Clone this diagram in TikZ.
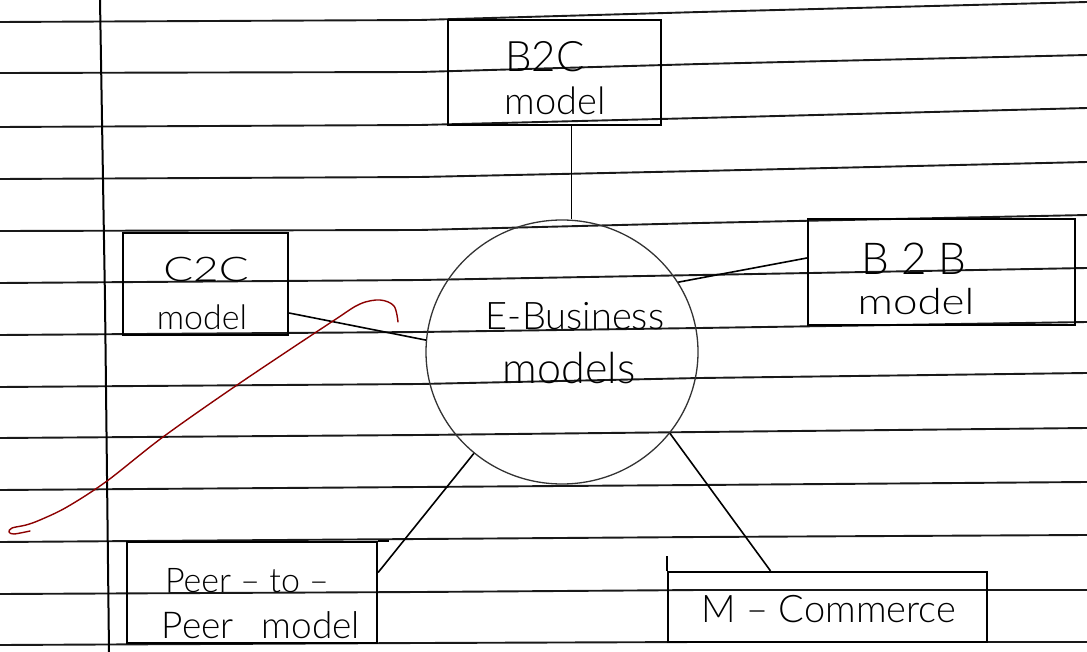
\documentclass[tikz,border=0pt]{standalone}
\usepackage{fontspec}
\usepackage{graphicx}
\newfontfamily\hand{Lato}[UprightFont={* Light}]
\usetikzlibrary{shapes.geometric}
\begin{document}
\begin{tikzpicture}[x=1pt,y=-1pt,
  rule/.style={line width=1.9pt, draw=black!90},
  margin/.style={line width=2pt, draw=black},
  boxline/.style={draw=black, line width=2.2pt},
  box/.style={boxline, rectangle, inner sep=0pt},
  hub/.style={draw=black!80, line width=1.3pt, ellipse, inner sep=0pt, minimum width=272pt, minimum height=264pt},
  link/.style={draw=black, line width=1.6pt},
  ink/.style={text=black, inner sep=0pt, anchor=base},
  redpen/.style={draw=red!55!black, line width=1.4pt, line cap=round, line join=round}]
\useasboundingbox (0,0) rectangle (1087,652);
\fill[white] (0,0) rectangle (1087,652);
% ruled paper
\foreach \a/\b/\c/\d in {22/20/12/2, 73/72/64/55, 127/125/118/108, 179/177/171/162,
  231/230/223/215, 283/280/275/268, 335/332/328/322, 387/384/378/373,
  438/435/432/428, 490/487/485/482, 542/539/537/535, 594/592/590/590, 645/643/642/642}
  \draw[rule] (0,\a) -- (420,\b) -- (700,\c) -- (1087,\d);
\draw[margin] (100,0) -- (105,300) -- (109,652);
% boxes
\node[box, minimum width=213pt, minimum height=105pt] (b2c) at (554.5,72.5) {};
\node[box, minimum width=165pt, minimum height=102pt] (c2c) at (205.5,284) {};
\node[box, minimum width=267pt, minimum height=106pt] (b2b) at (941.5,272) {};
\node[box, minimum width=250pt, minimum height=101pt] (p2p) at (252,592.5) {};
\node[box, minimum width=319pt, minimum height=70pt] (mcom) at (827.5,607) {};
\node[hub] (eb) at (562,352) {};
% extra strokes of the hand drawing
\draw[boxline] (mcom.north west) -- ++(0,-15);
\draw[boxline] (p2p.north east) -- ++(11,0);
% connectors
\draw[link] ([xshift=17pt]b2c.south) -- ([xshift=17pt]b2c.south |- eb.north);
\draw[link] ([yshift=-29pt]c2c.east) -- (eb.175);
\draw[link] ([yshift=14pt]b2b.west) -- (eb.31);
\draw[link] ([yshift=20pt]p2p.east) -- (eb.229);
\draw[link] ([xshift=-57pt]mcom.north) -- (eb.323);
% texts
\node[ink, font=\hand\fontsize{42}{42}\selectfont] (t-b2c) at (545,72) {B2C};
\node[ink, font=\hand\fontsize{38}{38}\selectfont] (t-b2cm) at (555,115) {model};
\node[ink, font=\hand\fontsize{34}{34}\selectfont] (t-c2c) at (206,282) {\scalebox{1.3}[1]{C2C}};
\node[ink, font=\hand\fontsize{34}{34}\selectfont] (t-c2cm) at (202,330) {model};
\node[ink, font=\hand\fontsize{44}{44}\selectfont] (t-b2b) at (914,275) {B 2 B};
\node[ink, font=\hand\fontsize{36}{36}\selectfont] (t-b2bm) at (916,315) {\scalebox{1.22}[1]{model}};
\node[ink, font=\hand\fontsize{38}{38}\selectfont] (t-eb) at (575,330) {E-Business};
\node[ink, font=\hand\fontsize{43}{43}\selectfont] (t-ebm) at (569,383) {models};
\node[ink, font=\hand\fontsize{34}{34}\selectfont] (t-p1) at (247,592) {Peer – to –};
\node[ink, font=\hand\fontsize{37}{37}\selectfont] (t-p2) at (261,638) {Peer\hspace{28pt}model};
\node[ink, font=\hand\fontsize{38}{38}\selectfont] (t-mc) at (829,622) {M – Commerce};
% red pen stroke
\draw[redpen] plot[smooth, tension=0.55] coordinates {(398,322) (394,306) (380,300) (360,304) (333,321) (240,383) (163,437) (107,481) (67,507) (40,520) (26,525) (12,528) (9,532) (14,534) (30,531)};
\end{tikzpicture}
\end{document}
